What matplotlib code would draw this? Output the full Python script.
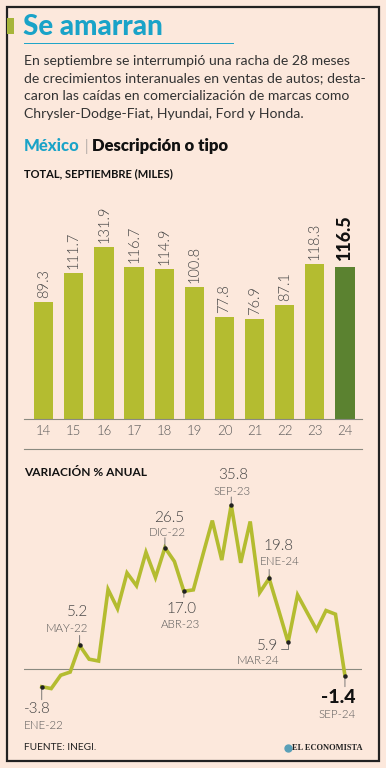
import numpy as np
import matplotlib
matplotlib.use('Agg')
from matplotlib import pyplot as plt
from matplotlib.patches import Rectangle

W, H = 386, 768

# Bar chart data: total september sales (thousands)
years = ['14', '15', '16', '17', '18', '19', '20', '21', '22', '23', '24']
totals = [89.3, 111.7, 131.9, 116.7, 114.9, 100.8, 77.8, 76.9, 87.1, 118.3, 116.5]

# Line chart data: annual % change, ENE-22 .. SEP-24
variation = [-3.8, -4.2, -1.3, -0.6, 5.2, 2.2, 1.8, 17.4, 13.2, 21.0, 18.2,
             25.5, 20.0, 26.5, 23.5, 17.0, 17.3, 24.9, 32.4, 23.8, 35.8,
             23.2, 32.2, 16.7, 19.8, 12.9, 5.9, 16.2, 12.4, 8.6, 12.8, 12.0, -1.4]
callout_idx = [0, 4, 13, 15, 20, 24, 26, 32]
callout_lbl = ['ENE-22', 'MAY-22', 'DIC-22', 'ABR-23', 'SEP-23', 'ENE-24', 'MAR-24', 'SEP-24']

BG = '#fce8dc'
GREEN = '#b4bc30'
DARK_GREEN = '#5b8230'
CYAN = '#1aa3c8'
GREY = '#555555'
LIGHT = 300

plt.rcParams['font.family'] = ['Lato', 'DejaVu Sans']

fig = plt.figure(figsize=(W / 100, H / 100), dpi=100, facecolor=BG)


def rect(x0, y0, x1, y1):
    return [x0 / W, 1 - y1 / H, (x1 - x0) / W, (y1 - y0) / H]


# background / decoration axes in pixel units
bg = fig.add_axes([0, 0, 1, 1])
bg.set_xlim(0, W)
bg.set_ylim(H, 0)
bg.axis('off')
bg.add_patch(Rectangle((7, 7), 372, 754, fill=False, ec='#222222', lw=1.6))
bg.add_patch(Rectangle((7, 18), 7, 16, color='#a7b53a', lw=0))
bg.text(23, 27, 'Se amarran', fontsize=20, fontweight=900, color=CYAN, va='center')
bg.plot([24, 233], [43, 43], color=CYAN, lw=0.7)
body = ['En septiembre se interrumpió una racha de 28 meses',
        'de crecimientos interanuales en ventas de autos; desta-',
        'caron las caídas en comercialización de marcas como',
        'Chrysler-Dodge-Fiat, Hyundai, Ford y Honda.']
for k, line in enumerate(body):
    bg.text(24, 61 + k * 17.5, line, fontsize=10.1, color='#333333', va='center', fontweight=400)

bg.text(24, 146, 'México', fontsize=12, fontweight=900, color=CYAN, va='center')
bg.text(84, 146, '|', fontsize=11, color='#888888', va='center', fontweight=LIGHT)
bg.text(92, 146, 'Descripción o tipo', fontsize=12, fontweight=800, color='#111111', va='center')
bg.text(24, 174, 'TOTAL, SEPTIEMBRE (MILES)', fontsize=8, fontweight='bold', color='#111111', va='center')
bg.plot([24, 362], [449, 449], color='#8a8a80', lw=0.8)
bg.text(24, 472, 'VARIACIÓN % ANUAL', fontsize=8.6, fontweight='bold', color='#111111', va='center')
bg.text(24, 748, 'FUENTE: INEGI.', fontsize=7.3, color='#222222', va='center')
bg.plot([288], [748], 'o', ms=5, color='#5aa0b8')
bg.text(362, 748, 'EL ECONOMISTA', fontsize=6.0, fontweight='bold', family='Liberation Serif',
        color='#222222', va='center', ha='right')

# ---- bar chart ----
ax = fig.add_axes(rect(24, 200, 362, 419))
ax.patch.set_alpha(0)
x = np.arange(len(years))
colors = [GREEN] * (len(years) - 1) + [DARK_GREEN]
ax.bar(x, totals, width=0.64, color=colors)
ax.set_xlim(-0.654, 10.565)
ax.set_ylim(0, 167.6)
for s in ['top', 'right', 'left']:
    ax.spines[s].set_visible(False)
ax.spines['bottom'].set_color('#8a8a80')
ax.spines['bottom'].set_linewidth(0.8)
ax.set_yticks([])
ax.set_xticks(x)
ax.set_xticklabels(years)
ax.tick_params(axis='x', length=0, pad=4, labelsize=9.5, labelcolor=GREY)
for lbl in ax.get_xticklabels():
    lbl.set_fontweight(LIGHT)
for i, v in enumerate(totals):
    last = i == len(totals) - 1
    ax.annotate(f'{v:.1f}', xy=(i, v), xytext=(0, 7 if last else 4), textcoords='offset pixels',
                rotation=90, ha='center', va='bottom',
                fontsize=13 if last else 10.5,
                fontweight=900 if last else LIGHT,
                color='#111111' if last else '#444444')

# ---- line chart ----
lx = fig.add_axes(rect(24, 480, 362, 700))
lx.patch.set_alpha(0)
idx = np.arange(len(variation))
lx.axhline(0, color='#8a8a80', lw=0.8)
lx.plot(idx, variation, color=GREEN, lw=2.6, solid_joinstyle='miter', zorder=3)
lx.set_xlim(-1.873, 33.8)
lx.set_ylim(-6.69, 41.24)
lx.axis('off')
lx.plot(callout_idx, [variation[i] for i in callout_idx], 'o', ms=2.2, color='#222222', zorder=4)

# (leader dy, value dx, value dy, month dx, month dy, ha)
place = {
    0: (-13, -17.7, -22, -17.7, -39, 'left'),
    4: (10, 8.3, 33, 8.3, 17, 'right'),
    13: (10, 4, 30, 2, 15, 'center'),
    15: (-6, -2.3, -17.6, -3, -33, 'center'),
    20: (8, 2, 30, 1.3, 13.3, 'center'),
    24: (9, 9, 32, 11, 16.6, 'center'),
    26: (0, -9.7, -3.3, -8.7, -18.3, 'right'),
    32: (-11, 11, -22, 11, -39, 'right'),
}
lead = dict(arrowstyle='-', lw=0.6, color='#666666', shrinkA=0, shrinkB=0)
for i, name in zip(callout_idx, callout_lbl):
    v = variation[i]
    ldy, vdx, vdy, mdx, mdy, ha = place[i]
    if i == 26:
        lx.annotate('', xy=(i, v), xytext=(-7, -7), textcoords='offset pixels',
                    arrowprops=dict(lead, connectionstyle='angle,angleA=0,angleB=90,rad=0'))
    else:
        lx.annotate('', xy=(i, v), xytext=(0, ldy), textcoords='offset pixels', arrowprops=lead)
    last = i == callout_idx[-1]
    lx.annotate(f'{v:.1f}', xy=(i, v), xytext=(vdx, vdy), textcoords='offset pixels',
                ha=ha, va='center', fontsize=14 if last else 11,
                fontweight=900 if last else LIGHT,
                color='#111111' if last else '#444444')
    lx.annotate(name, xy=(i, v), xytext=(mdx, mdy), textcoords='offset pixels',
                ha=ha, va='center', fontsize=8.3, color=GREY, fontweight=LIGHT)

fig.savefig('out.png', dpi=100, facecolor=BG)
